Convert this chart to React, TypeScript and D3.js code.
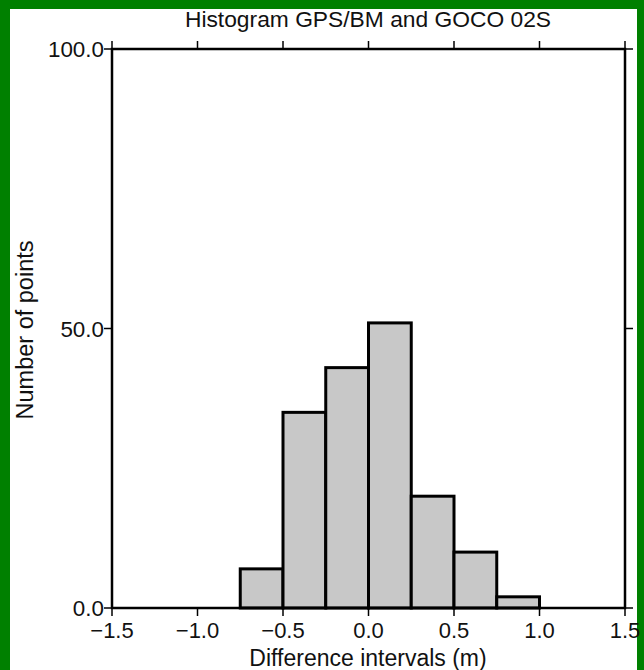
import React from "react";
import * as d3 from "d3";

const binStarts = [-0.75, -0.5, -0.25, 0.0, 0.25, 0.5, 0.75];
const binWidth = 0.25;
const counts = [7, 35, 43, 51, 20, 10, 2];
const xTicks = [-1.5, -1.0, -0.5, 0.0, 0.5, 1.0, 1.5];
const yTicks = [0, 50, 100];
const title = "Histogram GPS/BM and GOCO 02S";
const xLabel = "Difference intervals (m)";
const yLabel = "Number of points";

const W = 644;
const H = 670;
const L = 112, R = 625, T = 49, B = 608;
const FONT = "'Liberation Sans', Arial, Helvetica, sans-serif";

const fmt = (v: number) => {
  const s = Math.abs(v).toFixed(1);
  return v < 0 ? "\u2212" + s : s;
};

export default function App() {
  const x = d3.scaleLinear().domain([-1.5, 1.5]).range([L, R]);
  const y = d3.scaleLinear().domain([0, 100]).range([B, T]);
  const tick = 8;
  return (
    <svg
      width={W}
      height={H}
      style={{ position: "absolute", left: 0, top: 0, background: "#fff" }}
    >
      <rect x={0} y={0} width={W} height={H} fill="#fff" />
      {/* green border */}
      <rect x={0} y={0} width={W} height={9} fill="#008000" />
      <rect x={0} y={0} width={10} height={H} fill="#008000" />
      <rect x={637} y={0} width={W - 637} height={H} fill="#008000" />

      <text x={368} y={27} textAnchor="middle" fontFamily={FONT} fontSize={22.8} fill="#111">
        {title}
      </text>

      {/* bars */}
      {binStarts.map((s, i) => (
        <rect
          key={i}
          x={x(s)}
          y={y(counts[i])}
          width={x(s + binWidth) - x(s)}
          height={y(0) - y(counts[i])}
          fill="#c8c8c8"
          stroke="#000"
          strokeWidth={3}
        />
      ))}

      {/* frame */}
      <rect x={L} y={T} width={R - L} height={B - T} fill="none" stroke="#000" strokeWidth={2.5} />

      {/* x ticks top & bottom */}
      {xTicks.map((v) => (
        <g key={"x" + v}>
          <line x1={x(v)} x2={x(v)} y1={B} y2={B + tick} stroke="#000" strokeWidth={1.5} />
          <line x1={x(v)} x2={x(v)} y1={T} y2={T - tick} stroke="#000" strokeWidth={1.5} />
          <text x={x(v)} y={638} textAnchor="middle" fontFamily={FONT} fontSize={22} fill="#111">
            {fmt(v)}
          </text>
        </g>
      ))}

      {/* y ticks left & right */}
      {yTicks.map((v) => (
        <g key={"y" + v}>
          <line x1={L - tick} x2={L} y1={y(v)} y2={y(v)} stroke="#000" strokeWidth={1.5} />
          <line x1={R} x2={R + tick} y1={y(v)} y2={y(v)} stroke="#000" strokeWidth={1.5} />
          <text x={104} y={y(v) + 8} textAnchor="end" fontFamily={FONT} fontSize={22.4} fill="#111">
            {fmt(v)}
          </text>
        </g>
      ))}

      <text x={368} y={666} textAnchor="middle" fontFamily={FONT} fontSize={23} fill="#111">
        {xLabel}
      </text>
      <text
        transform={`translate(33, 330) rotate(-90)`}
        textAnchor="middle"
        fontFamily={FONT}
        fontSize={23.5}
        fill="#111"
      >
        {yLabel}
      </text>
    </svg>
  );
}
